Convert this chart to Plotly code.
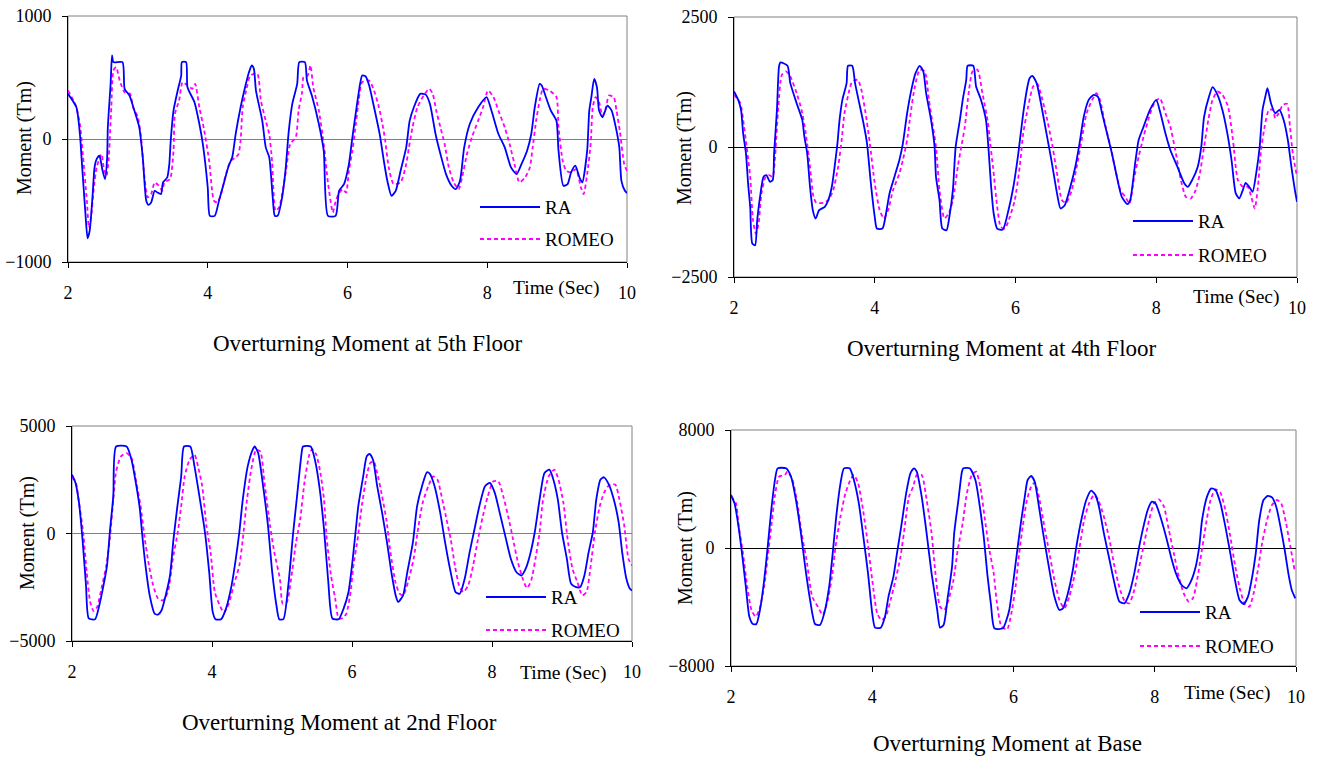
import plotly.graph_objects as go

# ---------------- data: (time [s], moment [Tm]) ----------------
RA_5TH = [(2.00,367),(2.12,258),(2.17,41),(2.20,-204),(2.25,-611),(2.28,-807),(2.31,-747),(2.35,-475),(2.38,-231),(2.41,-163),(2.45,-136),(2.49,-245),(2.53,-326),(2.56,-150),(2.57,95),(2.61,448),(2.63,679),(2.65,625),(2.78,625),(2.81,408),(2.88,353),(2.95,231),(3.02,95),(3.07,-150),(3.12,-503),(3.15,-535),(3.19,-516),(3.24,-421),(3.28,-435),(3.33,-448),(3.36,-353),(3.42,-313),(3.45,-204),(3.47,-14),(3.51,231),(3.57,394),(3.62,516),(3.63,625),(3.69,625),(3.71,421),(3.81,299),(3.88,122),(3.93,-41),(4.00,-394),(4.03,-625),(4.10,-625),(4.16,-503),(4.22,-380),(4.30,-217),(4.35,-149),(4.40,41),(4.47,258),(4.54,435),(4.59,543),(4.63,598),(4.66,571),(4.69,394),(4.78,149),(4.83,-68),(4.88,-149),(4.93,-475),(4.96,-625),(5.00,-625),(5.06,-489),(5.11,-272),(5.16,68),(5.21,285),(5.28,448),(5.31,625),(5.39,625),(5.42,475),(5.49,353),(5.59,122),(5.66,-95),(5.72,-625),(5.83,-625),(5.88,-421),(5.95,-367),(6.02,-204),(6.07,14),(6.13,258),(6.18,448),(6.21,516),(6.26,508),(6.31,435),(6.38,258),(6.46,41),(6.52,-177),(6.57,-340),(6.63,-462),(6.69,-421),(6.76,-258),(6.84,-68),(6.89,149),(6.95,258),(7.04,367),(7.12,361),(7.18,285),(7.26,41),(7.33,-122),(7.41,-285),(7.49,-380),(7.55,-408),(7.61,-340),(7.67,-68),(7.75,122),(7.87,258),(7.99,340),(8.06,231),(8.16,41),(8.25,-68),(8.34,-231),(8.42,-285),(8.49,-204),(8.57,-95),(8.63,41),(8.68,258),(8.75,448),(8.78,435),(8.84,340),(8.91,231),(8.99,149),(9.02,-95),(9.09,-380),(9.15,-367),(9.20,-272),(9.26,-217),(9.32,-313),(9.36,-353),(9.43,-95),(9.46,231),(9.49,340),(9.53,489),(9.57,421),(9.60,231),(9.65,177),(9.72,272),(9.78,231),(9.84,95),(9.89,-68),(9.92,-340),(9.97,-421),(10.0,-440)]
ROMEO_5TH = [(2.00,394),(2.11,272),(2.17,122),(2.21,-109),(2.27,-503),(2.30,-720),(2.33,-639),(2.37,-394),(2.41,-231),(2.48,-122),(2.51,-231),(2.55,-299),(2.58,-177),(2.62,258),(2.65,557),(2.69,584),(2.74,475),(2.81,380),(2.89,367),(2.93,258),(3.00,177),(3.05,-14),(3.09,-285),(3.14,-475),(3.19,-448),(3.24,-353),(3.30,-380),(3.35,-421),(3.38,-353),(3.46,-326),(3.51,-95),(3.53,204),(3.59,313),(3.64,462),(3.71,435),(3.78,408),(3.82,448),(3.88,258),(3.95,68),(4.02,-177),(4.09,-503),(4.14,-516),(4.19,-448),(4.26,-285),(4.33,-177),(4.40,-149),(4.44,-122),(4.47,-14),(4.50,258),(4.55,394),(4.61,516),(4.71,530),(4.76,313),(4.83,149),(4.88,41),(4.92,-177),(4.97,-584),(5.02,-557),(5.06,-462),(5.12,-258),(5.18,-41),(5.26,14),(5.30,231),(5.35,380),(5.37,503),(5.43,516),(5.47,598),(5.51,421),(5.59,231),(5.66,-41),(5.72,-353),(5.79,-598),(5.82,-530),(5.87,-448),(5.93,-408),(5.98,-435),(6.02,-258),(6.07,-95),(6.12,122),(6.16,313),(6.21,462),(6.31,475),(6.38,394),(6.45,258),(6.50,122),(6.54,-14),(6.59,-231),(6.66,-367),(6.76,-353),(6.83,-231),(6.88,-68),(6.93,95),(7.00,258),(7.09,353),(7.17,408),(7.22,367),(7.27,231),(7.33,95),(7.39,-41),(7.45,-231),(7.52,-353),(7.59,-408),(7.64,-313),(7.71,-122),(7.78,14),(7.87,149),(7.94,258),(8.01,394),(8.09,340),(8.16,231),(8.25,95),(8.32,-41),(8.39,-204),(8.46,-353),(8.54,-313),(8.61,-231),(8.65,-68),(8.70,149),(8.75,313),(8.80,408),(8.89,394),(8.99,340),(9.02,95),(9.08,-177),(9.13,-258),(9.20,-272),(9.27,-245),(9.34,-394),(9.38,-448),(9.43,-285),(9.48,-41),(9.51,258),(9.55,340),(9.60,299),(9.65,190),(9.70,258),(9.74,353),(9.81,340),(9.85,231),(9.90,54),(9.96,-204),(10.0,-260)]

RA_4TH = [(2.00,1067),(2.06,906),(2.10,713),(2.13,263),(2.17,-122),(2.20,-700),(2.23,-1150),(2.26,-1857),(2.30,-1890),(2.33,-1407),(2.37,-958),(2.42,-572),(2.46,-540),(2.51,-668),(2.55,-636),(2.57,-122),(2.61,713),(2.64,1549),(2.66,1626),(2.76,1562),(2.80,1228),(2.89,842),(2.97,521),(3.00,199),(3.04,-122),(3.08,-765),(3.12,-1215),(3.16,-1375),(3.21,-1215),(3.29,-1150),(3.34,-1022),(3.39,-765),(3.43,-379),(3.47,71),(3.50,521),(3.54,906),(3.60,1228),(3.62,1562),(3.68,1562),(3.72,1228),(3.79,778),(3.84,456),(3.89,71),(3.94,-636),(4.00,-1343),(4.03,-1568),(4.11,-1568),(4.16,-1279),(4.21,-893),(4.28,-572),(4.35,-251),(4.40,71),(4.46,649),(4.52,1099),(4.58,1420),(4.64,1562),(4.69,1453),(4.73,1035),(4.80,521),(4.85,6),(4.87,-572),(4.92,-1022),(4.96,-1568),(5.02,-1600),(5.06,-1343),(5.11,-829),(5.15,6),(5.21,521),(5.25,906),(5.30,1292),(5.32,1562),(5.40,1562),(5.44,1163),(5.51,906),(5.58,521),(5.62,-100),(5.65,-700),(5.69,-1279),(5.74,-1568),(5.82,-1588),(5.90,-1215),(5.97,-765),(6.04,-122),(6.11,649),(6.17,1163),(6.20,1324),(6.24,1369),(6.30,1228),(6.37,778),(6.44,263),(6.51,-251),(6.59,-893),(6.64,-1183),(6.70,-1118),(6.78,-765),(6.85,-379),(6.91,71),(6.97,585),(7.04,906),(7.11,1003),(7.17,970),(7.23,649),(7.30,263),(7.37,-122),(7.44,-572),(7.51,-958),(7.59,-1099),(7.63,-1022),(7.70,-315),(7.75,135),(7.82,392),(7.91,713),(8.00,906),(8.06,649),(8.13,263),(8.20,-58),(8.30,-379),(8.40,-700),(8.45,-765),(8.51,-636),(8.59,-379),(8.64,6),(8.68,585),(8.75,970),(8.80,1150),(8.87,1003),(8.94,713),(9.01,263),(9.07,-251),(9.13,-893),(9.18,-990),(9.23,-829),(9.27,-688),(9.32,-765),(9.37,-861),(9.42,-508),(9.47,6),(9.51,713),(9.55,970),(9.58,1131),(9.63,842),(9.69,649),(9.75,713),(9.81,521),(9.87,135),(9.92,-379),(9.97,-829),(10.0,-1054)]
ROMEO_4TH = [(2.00,1003),(2.09,842),(2.13,521),(2.18,6),(2.23,-572),(2.27,-1407),(2.31,-1665),(2.35,-1472),(2.39,-893),(2.45,-572),(2.50,-540),(2.55,-572),(2.58,-251),(2.63,778),(2.68,1388),(2.74,1453),(2.80,1356),(2.89,1035),(2.96,713),(3.02,263),(3.08,-379),(3.13,-958),(3.17,-1073),(3.27,-1073),(3.34,-1022),(3.41,-829),(3.48,-379),(3.53,135),(3.57,649),(3.64,1099),(3.68,1260),(3.76,1292),(3.81,1099),(3.87,649),(3.93,71),(4.00,-700),(4.07,-1215),(4.13,-1375),(4.19,-1215),(4.26,-829),(4.35,-508),(4.40,-251),(4.46,135),(4.51,649),(4.57,1163),(4.64,1485),(4.71,1453),(4.77,906),(4.82,456),(4.87,6),(4.92,-829),(4.99,-1375),(5.05,-1279),(5.11,-1022),(5.18,-379),(5.23,6),(5.28,392),(5.34,1099),(5.39,1453),(5.46,1485),(5.53,1035),(5.61,456),(5.63,199),(5.68,-379),(5.74,-1150),(5.79,-1536),(5.85,-1568),(5.92,-1343),(5.99,-1022),(6.06,-379),(6.11,263),(6.18,778),(6.25,1163),(6.31,1215),(6.37,970),(6.44,585),(6.51,135),(6.59,-508),(6.66,-1022),(6.72,-1073),(6.80,-829),(6.87,-379),(6.94,135),(7.01,649),(7.09,906),(7.15,1035),(7.20,906),(7.28,392),(7.35,6),(7.42,-443),(7.49,-829),(7.56,-958),(7.62,-1086),(7.68,-636),(7.75,-186),(7.82,199),(7.90,585),(7.97,842),(8.05,938),(8.13,649),(8.20,392),(8.27,-58),(8.35,-636),(8.42,-958),(8.49,-990),(8.56,-829),(8.62,-508),(8.68,6),(8.74,521),(8.80,906),(8.87,1067),(8.94,1003),(9.02,778),(9.09,135),(9.16,-636),(9.23,-765),(9.30,-765),(9.35,-958),(9.40,-1183),(9.44,-829),(9.49,-58),(9.54,392),(9.60,713),(9.66,713),(9.69,553),(9.74,649),(9.80,810),(9.86,829),(9.90,392),(9.94,-122),(10.0,-572)]

RA_2ND = [(2.00,2738),(2.05,2354),(2.10,1431),(2.15,-262),(2.20,-2415),(2.24,-3953),(2.33,-3985),(2.39,-3338),(2.45,-2415),(2.50,-1492),(2.54,46),(2.59,1738),(2.63,4046),(2.78,4046),(2.85,3431),(2.92,2200),(2.97,1123),(3.00,46),(3.05,-1492),(3.11,-2877),(3.18,-3723),(3.23,-3769),(3.28,-3569),(3.35,-2723),(3.40,-1954),(3.45,-262),(3.50,1123),(3.56,2661),(3.60,4046),(3.69,4046),(3.75,3123),(3.82,1738),(3.90,46),(3.96,-1800),(4.01,-3646),(4.05,-3985),(4.13,-3985),(4.20,-3492),(4.28,-2415),(4.34,-1185),(4.39,46),(4.44,1585),(4.51,3123),(4.58,3892),(4.61,4046),(4.66,3738),(4.73,2200),(4.80,354),(4.86,-1800),(4.92,-3338),(4.96,-3985),(5.02,-3985),(5.09,-2415),(5.16,46),(5.21,1585),(5.28,3738),(5.30,4046),(5.41,4046),(5.47,3431),(5.54,2046),(5.60,200),(5.66,-2200),(5.72,-3953),(5.81,-3985),(5.88,-3492),(5.95,-2723),(6.00,-1492),(6.05,46),(6.09,1277),(6.16,2661),(6.21,3585),(6.25,3707),(6.30,3431),(6.36,2200),(6.43,969),(6.50,-415),(6.57,-1954),(6.63,-2954),(6.66,-3185),(6.73,-2877),(6.79,-1800),(6.87,-415),(6.93,1277),(7.00,2200),(7.07,2846),(7.11,2784),(7.18,2200),(7.26,969),(7.33,-415),(7.40,-1646),(7.48,-2723),(7.54,-2800),(7.61,-2108),(7.68,-877),(7.74,46),(7.82,1277),(7.90,2200),(7.97,2354),(8.04,1892),(8.11,969),(8.20,-262),(8.27,-1185),(8.35,-1800),(8.42,-1954),(8.48,-1646),(8.54,-1031),(8.61,46),(8.68,1585),(8.75,2815),(8.82,2969),(8.87,2584),(8.94,1585),(9.00,46),(9.07,-1185),(9.13,-2338),(9.20,-2492),(9.26,-2492),(9.32,-1954),(9.38,-877),(9.44,46),(9.49,1585),(9.55,2508),(9.60,2615),(9.67,2277),(9.74,1585),(9.81,508),(9.86,-877),(9.92,-2108),(9.97,-2569),(10.0,-2650)]
ROMEO_2ND = [(2.00,2584),(2.05,2431),(2.10,1431),(2.16,46),(2.21,-1800),(2.26,-3185),(2.31,-3615),(2.36,-3415),(2.42,-2569),(2.49,-1492),(2.54,-262),(2.59,1585),(2.63,2892),(2.70,3585),(2.78,3738),(2.85,3508),(2.92,2354),(2.98,1277),(3.04,-262),(3.10,-1492),(3.16,-2415),(3.23,-3031),(3.30,-3108),(3.37,-2723),(3.44,-1185),(3.51,46),(3.56,1277),(3.61,2661),(3.68,3431),(3.75,3662),(3.80,3123),(3.86,2200),(3.92,354),(3.98,-877),(4.04,-2723),(4.11,-3338),(4.17,-3677),(4.24,-3262),(4.31,-2415),(4.39,-1492),(4.44,-262),(4.50,1585),(4.56,2969),(4.63,3892),(4.69,3815),(4.75,2354),(4.83,354),(4.89,-877),(4.97,-2108),(5.01,-3262),(5.07,-3185),(5.13,-2108),(5.20,-415),(5.26,662),(5.32,2354),(5.39,3662),(5.43,3923),(5.49,3662),(5.55,2800),(5.60,1585),(5.64,-262),(5.70,-1954),(5.76,-3031),(5.81,-3953),(5.87,-3923),(5.92,-3723),(5.98,-2723),(6.02,-1492),(6.08,-262),(6.14,1277),(6.20,2508),(6.26,3277),(6.31,3354),(6.36,2815),(6.43,1738),(6.49,662),(6.55,-877),(6.62,-2262),(6.68,-2800),(6.73,-2877),(6.80,-2262),(6.88,-1185),(6.95,354),(7.01,1431),(7.09,2200),(7.16,2661),(7.22,2508),(7.28,1738),(7.35,662),(7.41,-262),(7.47,-1492),(7.53,-2415),(7.59,-2723),(7.66,-2415),(7.73,-1492),(7.80,-262),(7.87,815),(7.94,1738),(8.02,2431),(8.09,2431),(8.16,1738),(8.23,815),(8.30,-262),(8.37,-1338),(8.44,-2108),(8.50,-2538),(8.56,-2185),(8.62,-1185),(8.68,46),(8.73,1585),(8.81,2661),(8.89,2969),(8.95,2508),(9.02,1431),(9.08,-262),(9.15,-1646),(9.22,-2262),(9.29,-2877),(9.35,-2723),(9.41,-1492),(9.47,46),(9.54,1277),(9.60,1892),(9.67,2231),(9.76,2277),(9.82,1585),(9.89,354),(9.95,-1185),(10.0,-1492)]

RA_BASE = [(2.00,3594),(2.05,3028),(2.10,1672),(2.15,-136),(2.21,-2622),(2.26,-4656),(2.31,-5153),(2.36,-5153),(2.41,-4204),(2.47,-2170),(2.52,90),(2.57,2576),(2.63,4836),(2.66,5401),(2.78,5401),(2.85,4836),(2.92,3254),(2.99,994),(3.05,-1266),(3.12,-3526),(3.19,-5153),(3.26,-5221),(3.32,-4430),(3.39,-2622),(3.44,-362),(3.49,2124),(3.55,4384),(3.60,5401),(3.68,5401),(3.74,4610),(3.81,3028),(3.88,542),(3.94,-1718),(4.00,-4430),(4.04,-5401),(4.12,-5401),(4.18,-4656),(4.23,-3300),(4.30,-1944),(4.35,-362),(4.41,1446),(4.48,3706),(4.54,5062),(4.59,5401),(4.63,5175),(4.70,3480),(4.77,994),(4.84,-1718),(4.92,-4204),(4.96,-5401),(5.01,-5221),(5.07,-3300),(5.13,-1266),(5.16,994),(5.22,3254),(5.27,5175),(5.29,5401),(5.38,5401),(5.46,4610),(5.53,2576),(5.58,700),(5.63,-1800),(5.68,-3800),(5.73,-5447),(5.85,-5447),(5.90,-4882),(5.94,-4204),(6.00,-2170),(6.06,90),(6.11,1898),(6.16,3480),(6.20,4610),(6.25,4882),(6.30,4497),(6.36,2802),(6.42,994),(6.50,-1266),(6.58,-3300),(6.65,-4204),(6.70,-4091),(6.77,-3074),(6.84,-1492),(6.89,90),(6.96,1898),(7.03,3254),(7.10,3887),(7.16,3594),(7.21,2802),(7.28,994),(7.36,-814),(7.43,-2396),(7.50,-3639),(7.57,-3752),(7.64,-3074),(7.71,-1718),(7.78,90),(7.84,1446),(7.90,2576),(7.96,3141),(8.01,3028),(8.08,2124),(8.16,768),(8.23,-588),(8.30,-1718),(8.38,-2509),(8.45,-2735),(8.51,-2283),(8.58,-1266),(8.63,90),(8.67,1898),(8.74,3480),(8.80,4046),(8.86,3932),(8.93,3028),(9.00,1446),(9.07,-362),(9.14,-2283),(9.20,-3526),(9.26,-3797),(9.32,-3300),(9.38,-1944),(9.43,-362),(9.48,1898),(9.54,3254),(9.60,3526),(9.66,3435),(9.72,2802),(9.78,1446),(9.84,-136),(9.90,-1944),(9.94,-2848),(9.99,-3413)]
ROMEO_BASE = [(2.00,3480),(2.07,3028),(2.11,1446),(2.17,-362),(2.23,-2622),(2.29,-4204),(2.35,-4656),(2.40,-4204),(2.47,-2622),(2.52,-588),(2.57,1446),(2.62,3480),(2.68,4836),(2.76,4949),(2.80,5175),(2.87,4610),(2.94,3028),(3.00,994),(3.07,-814),(3.15,-3300),(3.23,-3978),(3.30,-4543),(3.37,-3526),(3.43,-1944),(3.48,90),(3.55,2124),(3.62,3706),(3.69,4610),(3.74,4949),(3.80,4384),(3.87,2576),(3.93,542),(4.00,-2170),(4.07,-4430),(4.13,-4882),(4.19,-4656),(4.26,-3526),(4.33,-2170),(4.40,-588),(4.46,1446),(4.52,3480),(4.58,4158),(4.63,4949),(4.70,4949),(4.77,3254),(4.84,994),(4.89,-1492),(4.96,-3978),(5.02,-4204),(5.08,-3526),(5.15,-2170),(5.21,-136),(5.28,1672),(5.34,3706),(5.41,4949),(5.47,5175),(5.53,4158),(5.59,2124),(5.65,90),(5.72,-1718),(5.76,-3526),(5.83,-5334),(5.91,-5514),(5.97,-4430),(6.03,-2622),(6.08,-362),(6.13,1446),(6.19,3254),(6.25,4158),(6.30,4430),(6.36,3480),(6.42,1898),(6.50,-136),(6.58,-2170),(6.65,-3526),(6.72,-4091),(6.79,-3300),(6.86,-1944),(6.93,-136),(7.00,1898),(7.07,3028),(7.14,3594),(7.20,3254),(7.28,2124),(7.36,542),(7.43,-1266),(7.51,-2848),(7.58,-3639),(7.64,-3752),(7.71,-2848),(7.78,-1266),(7.85,316),(7.92,1898),(7.99,3028),(8.06,3299),(8.13,2802),(8.20,1220),(8.27,-362),(8.34,-1944),(8.41,-3074),(8.48,-3639),(8.54,-3413),(8.60,-2170),(8.66,-362),(8.72,1446),(8.79,3254),(8.86,3978),(8.93,3752),(9.00,2576),(9.07,768),(9.14,-1266),(9.21,-2848),(9.28,-3865),(9.34,-3978),(9.40,-3074),(9.46,-1492),(9.52,316),(9.59,1898),(9.66,2915),(9.73,3254),(9.79,3028),(9.86,1672),(9.92,90),(9.98,-1492)]

PANEL_TITLES = ["Overturning Moment at 5th Floor", "Overturning Moment at 4th Floor",
                "Overturning Moment at 2nd Floor", "Overturning Moment at Base"]
Y_LIMITS = [1000, 2500, 5000, 8000]
X_TICKS = [2, 4, 6, 8, 10]
SERIES_NAMES = ["RA", "ROMEO"]

# ---------------- layout geometry (pixels) ----------------
W, H = 1321, 758
# plot area: x0, x1, ytop, ybottom
BOXES = [(68, 627, 16, 262), (734, 1297, 17, 277), (72, 632, 426, 641), (731, 1296, 430, 666)]
ZERO_COL = ["#808080", "#000000", "#808080", "#000000"]
TITLE_POS = [(368, 343), (1002, 348), (339, 722), (1007, 743)]
YTITLE_POS = [(24, 138), (685, 148), (27, 533), (685, 548)]
TIME_POS = [(556, 288), (1236, 297), (563, 673), (1227, 693)]
LEGEND_POS = [(480, 207, 239), (1133, 221, 255), (486, 597, 630), (1140, 612, 646)]

FONT = "Liberation Serif, Times New Roman, serif"
BLUE = "#0000FF"
MAGENTA = "#FF00FF"


def fx(px):
    return px / W


def fy(py):
    return 1 - py / H


pairs = [(RA_5TH, ROMEO_5TH), (RA_4TH, ROMEO_4TH), (RA_2ND, ROMEO_2ND), (RA_BASE, ROMEO_BASE)]

fig = go.Figure()
shapes = []
annotations = []
layout_axes = {}

for i, (ra, romeo) in enumerate(pairs):
    k = "" if i == 0 else str(i + 1)
    xa, ya = "x" + k, "y" + k
    x0, x1, yt, yb = BOXES[i]
    lim = Y_LIMITS[i]

    for series, name, col, dash in [(romeo, "ROMEO", MAGENTA, "4px,3px"), (ra, "RA", BLUE, "solid")]:
        t, m = zip(*series)
        fig.add_trace(go.Scatter(x=list(t), y=list(m), mode="lines", name=name,
                                 line=dict(color=col, width=1.8, dash=dash, shape="spline", smoothing=0.6),
                                 xaxis=xa, yaxis=ya, showlegend=False, hoverinfo="skip"))

    common = dict(showgrid=False, ticks="outside", ticklen=5, tickwidth=1, tickcolor="black",
                  showline=True, linecolor="black", linewidth=1, automargin=False,
                  tickfont=dict(family=FONT, size=18, color="black"))
    layout_axes["xaxis" + k] = dict(domain=[fx(x0), fx(x1)], anchor=ya, range=[2, 10],
                                    tickvals=X_TICKS, zeroline=False, ticklabelstandoff=9, **common)
    layout_axes["yaxis" + k] = dict(domain=[fy(yb), fy(yt)], anchor=xa, range=[-lim, lim],
                                    tickvals=[-lim, 0, lim], zeroline=True, zerolinecolor=ZERO_COL[i],
                                    zerolinewidth=1, ticklabelstandoff=7, **common)

    # gray frame (top/right)
    shapes.append(dict(type="rect", xref="paper", yref="paper", x0=fx(x0), x1=fx(x1), y0=fy(yb), y1=fy(yt),
                       line=dict(color="#808080", width=1), layer="below"))

    # legend samples
    lx, ly1, ly2 = LEGEND_POS[i]
    shapes.append(dict(type="line", xref="paper", yref="paper", x0=fx(lx), x1=fx(lx + 60), y0=fy(ly1), y1=fy(ly1),
                       line=dict(color=BLUE, width=1.8)))
    shapes.append(dict(type="line", xref="paper", yref="paper", x0=fx(lx), x1=fx(lx + 60), y0=fy(ly2), y1=fy(ly2),
                       line=dict(color=MAGENTA, width=1.8, dash="4px,3px")))
    for name, yy in zip(SERIES_NAMES, (ly1, ly2)):
        annotations.append(dict(text=name, xref="paper", yref="paper", x=fx(lx + 63), y=fy(yy),
                                xanchor="left", yanchor="middle", showarrow=False,
                                font=dict(family=FONT, size=19, color="black")))

    tx, ty = TITLE_POS[i]
    annotations.append(dict(text=PANEL_TITLES[i], xref="paper", yref="paper", x=fx(tx), y=fy(ty),
                            xanchor="center", yanchor="middle", showarrow=False,
                            font=dict(family=FONT, size=23, color="black")))
    yx, yy = YTITLE_POS[i]
    annotations.append(dict(text="Moment (Tm)", xref="paper", yref="paper", x=fx(yx), y=fy(yy),
                            xanchor="center", yanchor="middle", showarrow=False, textangle=-90,
                            font=dict(family=FONT, size=20, color="black")))
    sx, sy = TIME_POS[i]
    annotations.append(dict(text="Time (Sec)", xref="paper", yref="paper", x=fx(sx), y=fy(sy),
                            xanchor="center", yanchor="middle", showarrow=False,
                            font=dict(family=FONT, size=19.5, color="black")))

fig.update_layout(width=W, height=H, margin=dict(l=0, r=0, t=0, b=0, pad=0, autoexpand=False),
                  paper_bgcolor="white", plot_bgcolor="white", showlegend=False,
                  shapes=shapes, annotations=annotations, **layout_axes)

fig.write_html("out.html", config={"displayModeBar": False})
